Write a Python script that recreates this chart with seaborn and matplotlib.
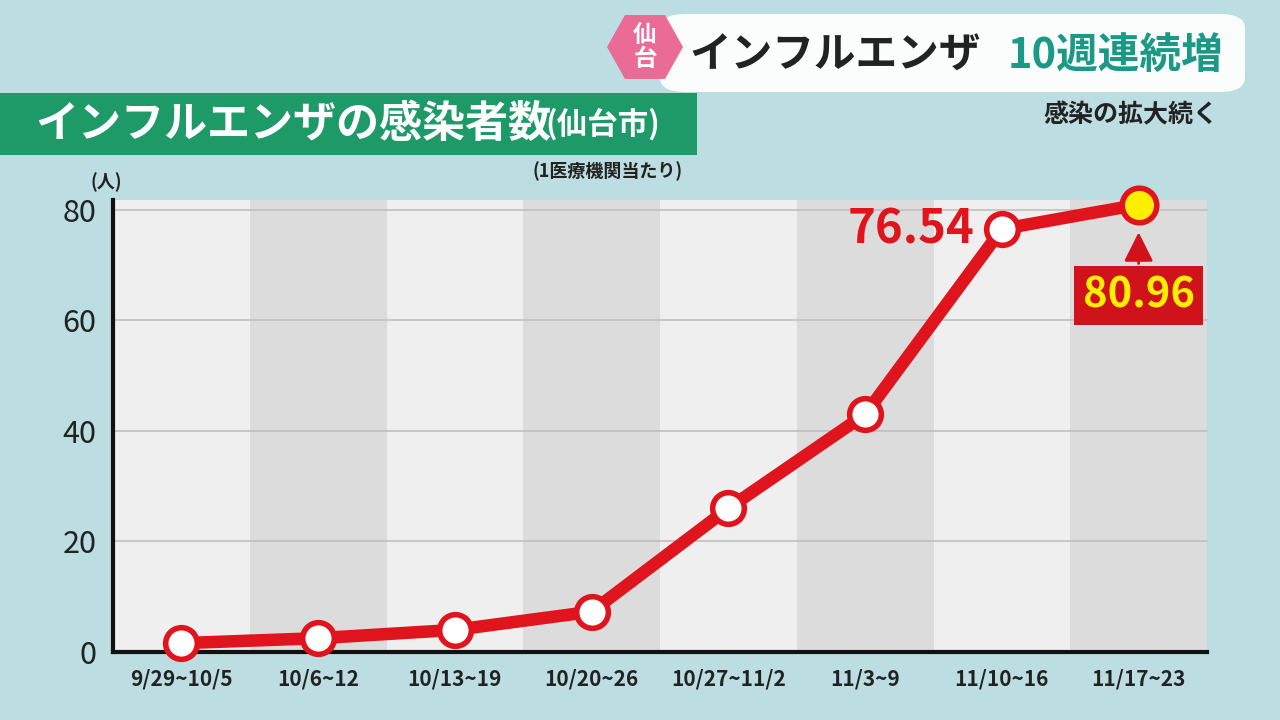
import matplotlib
matplotlib.use("Agg")
import matplotlib.pyplot as plt
import seaborn as sns
import pandas as pd
from matplotlib.patches import FancyBboxPatch, Rectangle, Polygon

sns.set_theme(style="white")
plt.rcParams['font.family'] = ['Noto Sans CJK JP', 'DejaVu Sans']

weeks = ["9/29~10/5", "10/6~12", "10/13~19", "10/20~26", "10/27~11/2", "11/3~9", "11/10~16", "11/17~23"]
values = [1.6, 2.5, 4.0, 7.3, 26.0, 43.0, 76.54, 80.96]
yticks = [0, 20, 40, 60, 80]

df = pd.DataFrame({"week": weeks, "x": range(len(weeks)), "value": values})

fig = plt.figure(figsize=(12.8, 7.2), dpi=100)
fig.patch.set_facecolor("#bcdde2")
ax = fig.add_axes([113/1280, 68/720, 1094/1280, 452/720])
ax.set_facecolor("#efefef")
for i in range(len(weeks)):
    ax.axvspan(i - 0.5, i + 0.5, color="#efefef" if i % 2 == 0 else "#dcdcdc", zorder=0, lw=0)
for t in yticks[1:]:
    ax.axhline(t, color="#bfbfbf", lw=1.2, zorder=1)

sns.lineplot(data=df, x="x", y="value", ax=ax, color="#e0141c", lw=9, zorder=3, legend=False)
ax.scatter(df["x"][:-1], df["value"][:-1], s=520, facecolor="white", edgecolor="#e0141c", linewidth=4, zorder=4, clip_on=False)
ax.scatter([df["x"].iloc[-1]], [df["value"].iloc[-1]], s=620, facecolor="#ffee00", edgecolor="#e0141c", linewidth=4, zorder=4, clip_on=False)
for l in ax.lines:
    l.set_clip_on(False)

ax.set_xlim(-0.5, len(weeks) - 0.5)
ax.set_ylim(0, 81.8)
ax.set_xticks(range(len(weeks)))
ax.set_xticklabels(weeks, fontsize=15, color="#222", fontweight="bold")
ax.set_yticks(yticks)
ax.set_yticklabels([str(t) for t in yticks], fontsize=22, color="#222")
ax.tick_params(axis="both", length=0, pad=12)
ax.set_xlabel(""); ax.set_ylabel("")
for s in ["top", "right"]:
    ax.spines[s].set_visible(False)
ax.spines["left"].set_color("#111"); ax.spines["left"].set_linewidth(3)
ax.spines["bottom"].set_color("#111"); ax.spines["bottom"].set_linewidth(3)

ax.text(5.8, values[6], f"{values[6]:.2f}", color="#e0141c", fontsize=34, fontweight="bold",
        ha="right", va="center", zorder=5)
ax.annotate(f"{values[7]:.2f}", xy=(7, values[7] - 4.5), xytext=(7, 64.5), ha="center", va="center",
            fontsize=30, fontweight="bold", color="#ffee00", zorder=5,
            bbox=dict(boxstyle="square,pad=0.2", fc="#d0121b", ec="none"),
            arrowprops=dict(arrowstyle="-|>,head_width=0.3,head_length=0.6", color="#d0121b", lw=2))

# header
fig.patches.append(FancyBboxPatch((660/1280, 628/720), 585/1280, 78/720, boxstyle="round,pad=0,rounding_size=0.02",
                                  transform=fig.transFigure, fc="white", ec="none", alpha=0.95))
fig.patches.append(Polygon([[607/1280, 673/720], [625/1280, 705/720], [665/1280, 705/720], [683/1280, 673/720],
                            [665/1280, 641/720], [625/1280, 641/720]], closed=True, transform=fig.transFigure,
                           fc="#e96b96", ec="none"))
fig.text(645/1280, 673/720, "仙\n台", color="white", fontsize=17, fontweight="bold", ha="center", va="center", linespacing=0.95)
fig.text(835/1280, 664/720, "インフルエンザ", color="#222", fontsize=30, fontweight="bold", ha="center", va="center")
fig.text(1115/1280, 664/720, "10週連続増", color="#1a9a86", fontsize=30, fontweight="bold", ha="center", va="center")
fig.text(1218/1280, 605/720, "感染の拡大続く", color="#222", fontsize=18, fontweight="bold", ha="right", va="center")

fig.patches.append(Rectangle((0, 565/720), 697/1280, 62/720, transform=fig.transFigure, fc="#1e9a68", ec="none"))
fig.text(35/1280, 596/720, "インフルエンザの感染者数", color="white", fontsize=31, fontweight="bold", ha="left", va="center")
fig.text(545/1280, 596/720, "(仙台市)", color="white", fontsize=22, fontweight="bold", ha="left", va="center")
fig.text(683/1280, 549/720, "(1医療機関当たり)", color="#222", fontsize=13, fontweight="bold", ha="right", va="center")
fig.text(90/1280, 538/720, "(人)", color="#222", fontsize=13, fontweight="bold", ha="left", va="center")

fig.savefig("out.png", dpi=100, facecolor=fig.get_facecolor())
